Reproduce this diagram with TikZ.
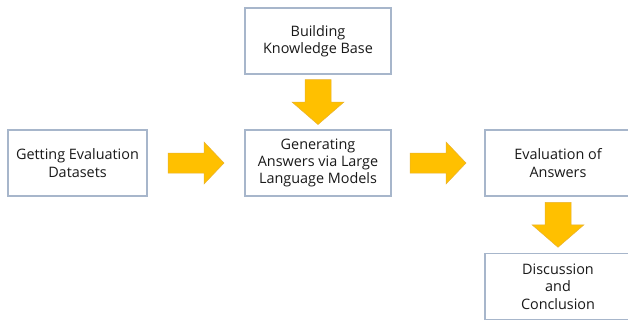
\documentclass[tikz,border=0pt]{standalone}
\usepackage{fontspec}
\setmainfont{Open Sans}
\usetikzlibrary{calc}
\definecolor{boxline}{HTML}{A7B6CB}
\definecolor{gold}{HTML}{FFC000}
\definecolor{goldline}{HTML}{E8B230}
\tikzset{
  box/.style={draw=boxline, line width=1.2pt, fill=white, minimum width=146pt, minimum height=66pt,
    align=center, inner sep=1pt, font=\fontsize{14.4}{17.3}\selectfont, text=black!90},
  blockarrow/.style={fill=gold, draw=goldline, line width=0.5pt, line join=miter},
}
\newcommand{\rightblock}[2]{%
  \begin{scope}[shift={($(#1.east)!0.5!(#2.west)$)}]
    \path[blockarrow] (-28,-10) -- (8,-10) -- (8,-21) -- (28,0) -- (8,21) -- (8,10) -- (-28,10) -- cycle;
  \end{scope}}
\newcommand{\downblock}[2]{%
  \begin{scope}[shift={($(#1.south)!0.5!(#2.north)$)}]
    \path[blockarrow] (-13,-22.5) -- (13,-22.5) -- (13,0) -- (26,0) -- (0,22.5) -- (-26,0) -- (-13,0) -- cycle;
  \end{scope}}
\begin{document}
\begin{tikzpicture}[x=1pt,y=-1pt]
\useasboundingbox (0,0) rectangle (628,322);
\fill[white] (0,0) rectangle (628,322);
\node[box] (kb) at (318,41) {Building\\Knowledge Base};
\node[box, minimum width=139pt] (get) at (77.5,163) {Getting Evaluation\\Datasets};
\node[box] (gen) at (318,163) {Generating\\Answers via Large\\Language Models};
\node[box] (eva) at (558,163) {Evaluation of\\Answers};
\node[box] (dis) at (558,286.5) {Discussion\\and\\Conclusion};
\downblock{kb}{gen}
\rightblock{get}{gen}
\rightblock{gen}{eva}
\downblock{eva}{dis}
\end{tikzpicture}
\end{document}
